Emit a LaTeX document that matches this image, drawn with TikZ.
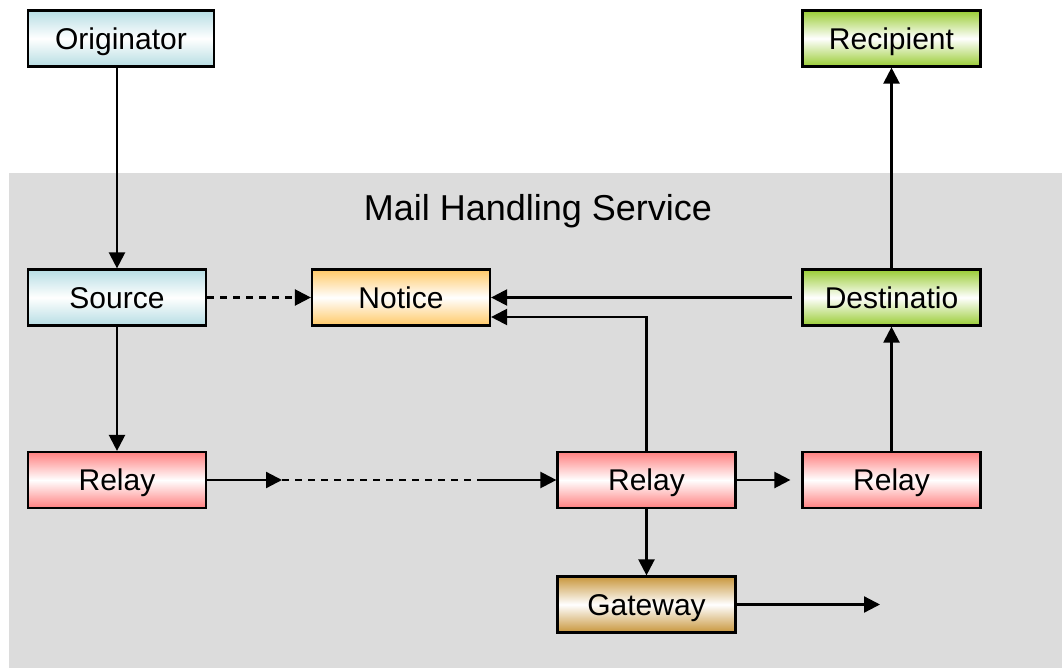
\documentclass[tikz,border=0pt]{standalone}
\usepackage{fontspec}
\setmainfont{Liberation Sans}
\usetikzlibrary{arrows.meta}

\definecolor{bgGrey}{RGB}{220,220,220}
\definecolor{cyanEdge}{RGB}{182,221,227}
\definecolor{orangeEdge}{RGB}{255,200,102}
\definecolor{redEdge}{RGB}{255,128,128}
\definecolor{brownEdge}{RGB}{200,150,60}
\definecolor{greenEdge}{RGB}{153,204,51}

\tikzset{
  box/.style={draw=black, line width=2.2pt, inner sep=0pt,
    minimum width=178pt, minimum height=56pt,
    text height=21.5pt, text depth=0pt,
    font=\fontsize{30}{34}\selectfont, shading=axis,
    middle color=white},
  cyanbox/.style={box, top color=cyanEdge, bottom color=cyanEdge, middle color=white},
  orangebox/.style={box, top color=orangeEdge, bottom color=orangeEdge, middle color=white},
  redbox/.style={box, top color=redEdge, bottom color=redEdge, middle color=white},
  brownbox/.style={box, top color=brownEdge, bottom color=brownEdge, middle color=white},
  greenbox/.style={box, top color=greenEdge, bottom color=greenEdge, middle color=white},
  flow/.style={line width=2.3pt, -{Triangle[length=16pt,width=16pt]}},
  dashline/.style={line width=2.3pt, dash pattern=on 7pt off 6pt},
}

\begin{document}
\begin{tikzpicture}[x=1pt, y=-1pt]
  \useasboundingbox (0,0) rectangle (1062,668);

  % service area
  \fill[bgGrey] (9,173) rectangle (1062,668);
  \node[font=\fontsize{36}{40}\selectfont, inner sep=0pt,
        text height=25.8pt, text depth=0pt] (title) at (538,207.5) {Mail Handling Service};

  % boxes
  \node[cyanbox, minimum width=186pt] (orig) at (121,38.5) {Originator};
  \node[cyanbox] (src) at (117,297.5) {Source};
  \node[orangebox] (notice) at (401,297.5) {Notice};
  \node[greenbox] (recip) at (891.5,38.5) {Recipient};
  \node[greenbox] (dest) at (891.5,297.5) {Destinatio};
  \node[redbox] (relayA) at (117,480) {Relay};
  \node[redbox] (relayB) at (646.5,480) {Relay};
  \node[redbox] (relayC) at (891.5,480) {Relay};
  \node[brownbox] (gate) at (646.5,604.5) {Gateway};

  % helper points
  \coordinate (relayMidA) at (282,480);
  \coordinate (relayMidB) at (478,480);
  \coordinate (gateOut) at (880,604.5);

  % connectors
  \draw[flow] (src.north |- orig.south) -- (src.north);
  \draw[flow] (src.south) -- (relayA.north);
  \draw[dashline] (src.east) -- ([xshift=-15pt]notice.west);
  \draw[flow] ([xshift=-16pt]notice.west) -- (notice.west);
  \draw[flow] ([xshift=-9pt]dest.west) -- (notice.east);
  \draw[flow] (relayB.north) |- ([yshift=-19.5pt]notice.east);
  \draw[flow] (relayA.east) -- (relayMidA);
  \draw[dashline] (relayMidA) -- (relayMidB);
  \draw[flow] (relayMidB) -- (relayB.west);
  \draw[flow] (relayB.east) -- ([xshift=-11pt]relayC.west);
  \draw[flow] (relayB.south) -- (gate.north);
  \draw[flow] (gate.east) -- (gateOut);
  \draw[flow] (relayC.north) -- (dest.south);
  \draw[flow] (dest.north) -- (recip.south);
\end{tikzpicture}
\end{document}
